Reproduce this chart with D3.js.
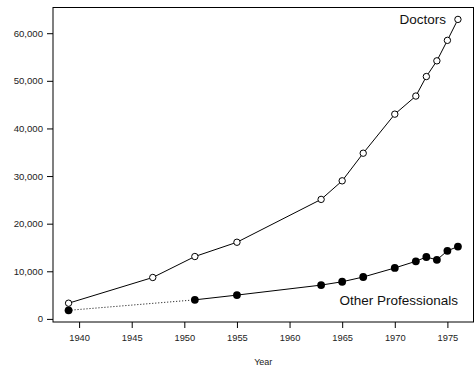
<!DOCTYPE html>
<html>
<head>
<meta charset="utf-8">
<script src="https://cdn.jsdelivr.net/npm/d3@7"></script>
<style>
  html, body { margin: 0; padding: 0; background: #fff; }
  svg { display: block; font-family: "Liberation Sans", Arial, sans-serif; }
</style>
</head>
<body>
<svg id="chart" width="475" height="372"></svg>
<script>
// Years of observation
const doctorYears = [1939, 1947, 1951, 1955, 1963, 1965, 1967, 1970, 1972, 1973, 1974, 1975, 1976];
const doctorValues = [3300, 8700, 13100, 16100, 25100, 29000, 34800, 43000, 46800, 50900, 54200, 58500, 62900];

const otherYears = [1939, 1951, 1955, 1963, 1965, 1967, 1970, 1972, 1973, 1974, 1975, 1976];
const otherValues = [1800, 4000, 5000, 7100, 7800, 8800, 10700, 12100, 13000, 12400, 14300, 15200];

const xTicks = [1940, 1945, 1950, 1955, 1960, 1965, 1970, 1975];
const yTicks = [0, 10000, 20000, 30000, 40000, 50000, 60000];

const svg = d3.select("#chart");
const plotLeft = 53, plotRight = 473.5, plotTop = 7.5, plotBottom = 322;

const x = d3.scaleLinear().domain([1937.52, 1977.48]).range([plotLeft, plotRight]);
const y = d3.scaleLinear().domain([-650, 65400]).range([plotBottom, plotTop]);

// plot frame
svg.append("rect")
  .attr("x", plotLeft).attr("y", plotTop)
  .attr("width", plotRight - plotLeft).attr("height", plotBottom - plotTop)
  .attr("fill", "none").attr("stroke", "#000").attr("stroke-width", 1);

// x axis
const xAxis = svg.append("g")
  .attr("transform", `translate(0,${plotBottom})`)
  .call(d3.axisBottom(x).tickValues(xTicks).tickFormat(d3.format("d")).tickSizeOuter(0).tickSize(6).tickPadding(6));
xAxis.select(".domain").remove();
xAxis.selectAll("text").attr("font-size", 9.3).attr("fill", "#222").attr("font-family", "Liberation Sans, Arial, sans-serif");

// y axis
const yAxis = svg.append("g")
  .attr("transform", `translate(${plotLeft},0)`)
  .call(d3.axisLeft(y).tickValues(yTicks).tickFormat(d3.format(",")).tickSizeOuter(0).tickSize(6).tickPadding(4));
yAxis.select(".domain").remove();
yAxis.selectAll("text").attr("font-size", 9.6).attr("fill", "#222").attr("font-family", "Liberation Sans, Arial, sans-serif");

// axis title
svg.append("text")
  .attr("x", (plotLeft + plotRight) / 2).attr("y", 365)
  .attr("text-anchor", "middle").attr("font-size", 9)
  .attr("fill", "#222")
  .text("Year");

const doctors = doctorYears.map((yr, i) => ({ yr, v: doctorValues[i] }));
const other = otherYears.map((yr, i) => ({ yr, v: otherValues[i] }));

const line = d3.line().x(d => x(d.yr)).y(d => y(d.v));

// Doctors series: solid line, open circles
svg.append("path").datum(doctors)
  .attr("d", line).attr("fill", "none").attr("stroke", "#000").attr("stroke-width", 1);

// Other professionals: dotted gap before 1951, solid afterwards
svg.append("path").datum(other.slice(0, 2))
  .attr("d", line).attr("fill", "none").attr("stroke", "#000")
  .attr("stroke-width", 1).attr("stroke-dasharray", "1,2");
svg.append("path").datum(other.slice(1))
  .attr("d", line).attr("fill", "none").attr("stroke", "#000").attr("stroke-width", 1);

svg.append("g").selectAll("circle").data(doctors).join("circle")
  .attr("cx", d => x(d.yr)).attr("cy", d => y(d.v)).attr("r", 3.2)
  .attr("fill", "#fff").attr("stroke", "#000").attr("stroke-width", 1);

svg.append("g").selectAll("circle").data(other).join("circle")
  .attr("cx", d => x(d.yr)).attr("cy", d => y(d.v)).attr("r", 3.9)
  .attr("fill", "#000");

// series labels
svg.append("text")
  .attr("x", 446).attr("y", 23.5)
  .attr("text-anchor", "end").attr("font-size", 13.5).attr("fill", "#111")
  .text("Doctors");

svg.append("text")
  .attr("x", 458).attr("y", 304.5)
  .attr("text-anchor", "end").attr("font-size", 13.5).attr("fill", "#111")
  .text("Other Professionals");
</script>
</body>
</html>
